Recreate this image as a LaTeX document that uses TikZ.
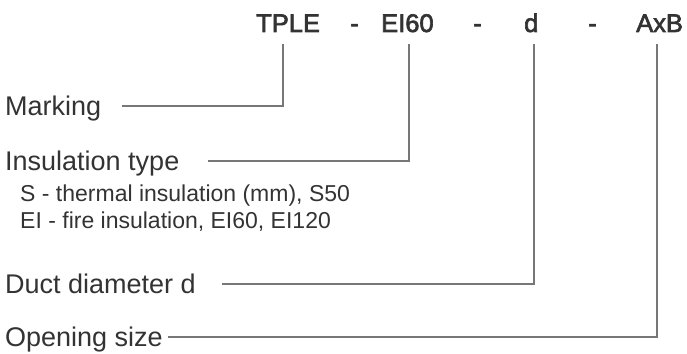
\documentclass[tikz,border=0pt]{standalone}
\usepackage{fontspec}
\setmainfont{Liberation Sans}
\newfontfamily\codefont[BoldFont=Liberation Sans, BoldFeatures={FakeBold=2.5}]{Liberation Sans}
\definecolor{txt}{HTML}{333333}
\definecolor{ln}{HTML}{777777}
\begin{document}
\begin{tikzpicture}[x=1pt,y=-1pt,
  lbl/.style={anchor=base west, inner sep=0pt, text=txt, font=\fontsize{27}{30}\selectfont},
  sublbl/.style={anchor=base west, inner sep=0pt, text=txt, font=\fontsize{23}{28}\selectfont},
  code/.style={anchor=base west, inner sep=0pt, text=txt, font=\codefont\bfseries\fontsize{25.5}{30}\selectfont},
  conn/.style={draw=ln, line width=2pt}]
\useasboundingbox (0,0) rectangle (687,353);
% code parts
\node[code] (t1) at (256,32) {TPLE};
\node[code] (h1) at (350,32) {-};
\node[code] (t2) at (381,32) {EI60};
\node[code] (h2) at (473,32) {-};
\node[code] (t3) at (524,32) {d};
\node[code] (h3) at (588,32) {-};
\node[code] (t4) at (636,32) {AxB};
% tops of the connectors
\coordinate (c1) at (283,44);
\coordinate (c2) at (409,44);
\coordinate (c3) at (534,44);
\coordinate (c4) at (657,44);
% labels
\node[lbl] (mark) at (5,115) {Marking};
\node[lbl] (ins) at (5,170) {Insulation type};
\node[sublbl] (s1) at (20,201) {S - thermal insulation (mm), S50};
\node[sublbl] (s2) at (20,228) {EI - fire insulation, EI60, EI120};
\node[lbl] (duct) at (5,293) {Duct diameter d};
\node[lbl] (open) at (5,346) {Opening size};
% line starts
\coordinate (m1) at (122,106);
\coordinate (m2) at (208,161);
\coordinate (m3) at (222,284);
\coordinate (m4) at (168,337);
\draw[conn] (m1) -| (c1);
\draw[conn] (m2) -| (c2);
\draw[conn] (m3) -| (c3);
\draw[conn] (m4) -| (c4);
\end{tikzpicture}
\end{document}
